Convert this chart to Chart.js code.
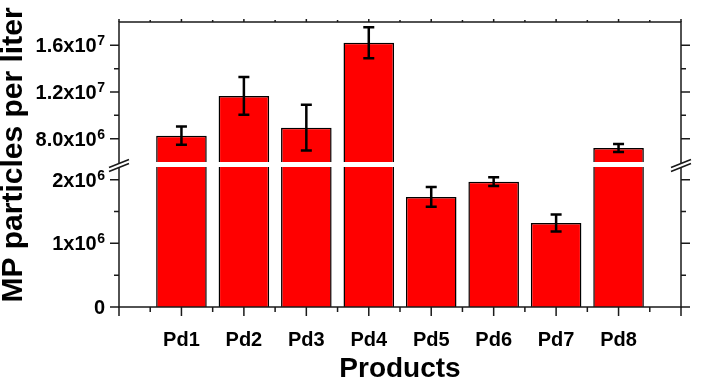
<!DOCTYPE html>
<html>
<head>
<meta charset="utf-8">
<script src="https://cdn.jsdelivr.net/npm/chart.js@4.4.1/dist/chart.umd.min.js"></script>
<style>
    html, body { margin: 0; padding: 0; background: #fff; }
    #wrap { width: 702px; height: 380px; }
</style>
</head>
<body>
<div id="wrap"><canvas id="bar-chart"></canvas></div>
<script>
// chart values
var categories = ["Pd1", "Pd2", "Pd3", "Pd4", "Pd5", "Pd6", "Pd7", "Pd8"];
var particles = [8.26e6, 11.66e6, 8.94e6, 16.22e6, 1.73e6, 1.97e6, 1.32e6, 7.2e6];
var errors = [0.78e6, 1.62e6, 1.96e6, 1.33e6, 0.155e6, 0.07e6, 0.135e6, 0.35e6];

// y axis (broken between lowRange and highRange)
var lowRange = [0, 2.2e6];
var highRange = [6e6, 1.8e7];
var yTicks = [0, 1e6, 2e6, 8e6, 1.2e7, 1.6e7];
var yTickLabels = ["0", "1x10^6", "2x10^6", "8.0x10^6", "1.2x10^7", "1.6x10^7"];
var yMinorTicks = [0.5e6, 1.5e6, 1e7, 1.4e7];
var yTitle = "MP particles per liter";

var FONT = "'Liberation Sans', Arial, sans-serif";
var GAP = 5 / 285;

// linear scale with a break in the middle
class BrokenScale extends Chart.LinearScale {
    determineDataLimits() {
        this.min = lowRange[0];
        this.max = highRange[1];
    }
    buildTicks() {
        return yTicks.map(function(v) { return { value: v }; });
    }
    _frac(v) {
        var part = (1 - GAP) / 2;
        if (v <= lowRange[1]) return (v - lowRange[0]) / (lowRange[1] - lowRange[0]) * part;
        if (v >= highRange[0]) return 1 - part + (v - highRange[0]) / (highRange[1] - highRange[0]) * part;
        return part + GAP / 2;
    }
    getPixelForValue(v) {
        return this.getPixelForDecimal(this._frac(v));
    }
    getValueForPixel(p) {
        var d = this.getDecimalForPixel(p);
        var part = (1 - GAP) / 2;
        if (d <= part) return lowRange[0] + d / part * (lowRange[1] - lowRange[0]);
        if (d >= 1 - part) return highRange[0] + (d - 1 + part) / part * (highRange[1] - highRange[0]);
        return lowRange[1];
    }
}
BrokenScale.id = "broken";
BrokenScale.defaults = Chart.LinearScale.defaults;
Chart.register(BrokenScale);

// frame, ticks on all sides, break marks, error bars, y labels
var extras = {
    id: "extras",
    afterDatasetsDraw: function(chart) {
        var c = chart.ctx, a = chart.chartArea;
        var ys = chart.scales.y;
        var yHi = ys.getPixelForValue(highRange[0]);
        var yLo = ys.getPixelForValue(lowRange[1]);

        // white band through the bars at the break
        c.save();
        c.fillStyle = "#fff";
        c.fillRect(a.left + 1, yHi, a.right - a.left - 2, yLo - yHi);

        // error bars
        var meta = chart.getDatasetMeta(0);
        c.strokeStyle = "#000";
        c.lineWidth = 2.5;
        meta.data.forEach(function(bar, i) {
            var top = ys.getPixelForValue(particles[i] + errors[i]);
            var bot = ys.getPixelForValue(particles[i] - errors[i]);
            c.beginPath();
            c.moveTo(bar.x, top); c.lineTo(bar.x, bot);
            c.moveTo(bar.x - 5.5, top); c.lineTo(bar.x + 5.5, top);
            c.moveTo(bar.x - 5.5, bot); c.lineTo(bar.x + 5.5, bot);
            c.stroke();
        });
        c.restore();
    },
    afterDraw: function(chart) {
        var c = chart.ctx, a = chart.chartArea;
        var ys = chart.scales.y, xs = chart.scales.x;
        c.save();
        c.strokeStyle = "#1a1a1a";
        c.lineWidth = 1.5;
        c.beginPath();
        c.rect(a.left, a.top, a.right - a.left, a.bottom - a.top);
        c.stroke();

        c.beginPath();
        function yTick(v, len) {
            var p = ys.getPixelForValue(v);
            c.moveTo(a.left, p); c.lineTo(a.left - len, p);
            c.moveTo(a.right, p); c.lineTo(a.right + len, p);
        }
        yTicks.forEach(function(v) { yTick(v, 9); });
        yMinorTicks.forEach(function(v) { yTick(v, 5); });
        for (var k = 0; k <= 18; k++) {
            var len = k % 2 === 0 ? 9 : 5;
            var p = xs.getPixelForValue(k / 2);
            c.moveTo(p, a.bottom); c.lineTo(p, a.bottom + len);
            c.moveTo(p, a.top); c.lineTo(p, a.top - (k % 2 === 0 ? 3 : 2));
        }
        c.stroke();

        // break marks on left and right axes
        var yc = (ys.getPixelForValue(highRange[0]) + ys.getPixelForValue(lowRange[1])) / 2 + 1;
        [a.left, a.right].forEach(function(x) {
            c.fillStyle = "#fff";
            c.beginPath();
            c.moveTo(x - 10, yc + 2); c.lineTo(x + 10, yc - 6);
            c.lineTo(x + 10, yc - 2); c.lineTo(x - 10, yc + 6);
            c.closePath();
            c.fill();
            c.beginPath();
            c.moveTo(x - 10, yc + 2); c.lineTo(x + 10, yc - 6);
            c.moveTo(x - 10, yc + 6); c.lineTo(x + 10, yc - 2);
            c.stroke();
        });

        // y tick labels with superscript exponents
        c.fillStyle = "#000";
        c.textBaseline = "alphabetic";
        yTicks.forEach(function(v, i) {
            var parts = yTickLabels[i].split("^");
            var py = ys.getPixelForValue(v) + 7;
            var xr = a.left - 14;
            if (parts.length > 1) {
                c.font = "bold 14px " + FONT;
                c.textAlign = "right";
                c.fillText(parts[1], xr, py - 7);
                xr -= c.measureText(parts[1]).width + 0.5;
            }
            c.font = "bold 20px " + FONT;
            c.textAlign = "right";
            c.fillText(parts[0], xr, py);
        });

        // y title
        c.translate(14, 155);
        c.rotate(-Math.PI / 2);
        c.font = "bold 30px " + FONT;
        c.textAlign = "center";
        c.textBaseline = "middle";
        c.fillText(yTitle, 0, 0);
        c.restore();
    }
};

var ctx = document.getElementById("bar-chart");

var data = {
    datasets: [{
        label: yTitle,
        data: categories.map(function(c, i) { return { x: i + 1, y: particles[i] }; }),
        backgroundColor: "#ff0000",
        borderColor: "#000",
        borderWidth: 1.5,
        borderSkipped: "bottom",
        barPercentage: 0.81,
        categoryPercentage: 1
    }]
};

var options = {
    responsive: true,
    maintainAspectRatio: false,
    animation: false,
    layout: { padding: { left: 0, right: 10, top: 22, bottom: 0 } },
    plugins: {
        legend: { display: false },
        tooltip: { enabled: false }
    },
    scales: {
        x: {
            type: "linear",
            offset: false,
            min: 0,
            max: 9,
            afterFit: function(s) { s.height = 73; },
            afterBuildTicks: function(s) {
                s.ticks = [];
                for (var k = 0; k <= 9; k++) s.ticks.push({ value: k });
            },
            ticks: {
                autoSkip: false,
                maxRotation: 0,
                padding: 21,
                color: "#000",
                font: { family: FONT, size: 20, weight: "bold" },
                callback: function(v) { return categories[v - 1] || ""; }
            },
            grid: { display: false, drawTicks: false },
            border: { display: false },
            title: {
                display: true,
                text: "Products",
                color: "#000",
                font: { family: FONT, size: 28, weight: "bold", lineHeight: 0.75 },
                padding: { top: 0, bottom: 0 }
            }
        },
        y: {
            type: "broken",
            afterFit: function(s) { s.width = 119; },
            ticks: { display: false },
            grid: { display: false, drawTicks: false },
            border: { display: false }
        }
    }
};

var chart = new Chart(ctx, {
    type: "bar",
    data: data,
    options: options,
    plugins: [extras]
});
</script>
</body>
</html>
